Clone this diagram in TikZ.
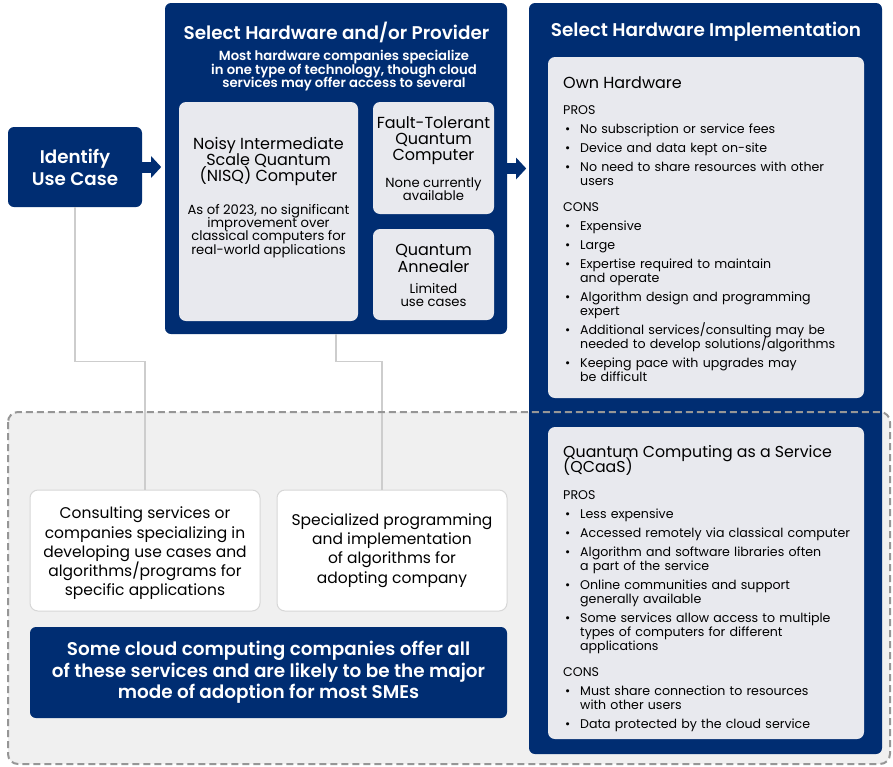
\documentclass[tikz,border=0pt]{standalone}
\usepackage{fontspec}
\setmainfont{Poppins}[BoldFont={Poppins SemiBold}]
\usetikzlibrary{arrows.meta,positioning}

\definecolor{navy}{RGB}{0,45,114}
\definecolor{boxgray}{RGB}{232,233,238}
\definecolor{zonegray}{RGB}{240,240,240}
\definecolor{dashgray}{RGB}{150,150,150}
\definecolor{linegray}{RGB}{205,205,205}
\definecolor{edgegray}{RGB}{215,215,215}

\newcommand{\bul}{\par\hangindent=17pt\hangafter=1\noindent\makebox[17pt][l]{\hspace{2pt}\textbullet}}
\newcommand{\tightlines}{\setlength{\lineskiplimit}{-20pt}}

\tikzset{
  navybox/.style={fill=navy, rounded corners=6pt, inner sep=0pt},
  graybox/.style={fill=boxgray, rounded corners=7pt, inner sep=0pt},
  whitebox/.style={fill=white, draw=edgegray, line width=1pt, rounded corners=8pt, inner sep=0pt, align=center, font=\tightlines\fontsize{15.5}{19.2}\selectfont},
  flowarrow/.style={navy, line width=11pt, -{Triangle[length=10pt,width=21pt]}},
  link/.style={linegray, line width=1.3pt},
  titletext/.style={white, inner sep=0pt, font=\bfseries\fontsize{18.4}{20}\selectfont},
  notetext/.style={white, inner sep=0pt, align=center, font=\tightlines\bfseries\fontsize{13.2}{13.5}\selectfont},
  nametext/.style={inner sep=0pt, align=center, font=\tightlines\fontsize{16}{16.2}\selectfont},
  smalltext/.style={inner sep=0pt, align=center, font=\tightlines\fontsize{13.2}{13.3}\selectfont},
  listtext/.style={anchor=north west, inner sep=0pt, text width=320pt, align=left, font=\tightlines\fontsize{12.6}{14}\selectfont\setlength{\parskip}{5pt}}
}

\begin{document}
\tightlines
\begin{tikzpicture}[x=1pt,y=-1pt]
\useasboundingbox (0,0) rectangle (893,766);

\fill[zonegray, rounded corners=10pt] (8,412) rectangle (890,764);

\node[navybox, minimum width=134pt, minimum height=80pt, text=white, align=center, font=\tightlines\bfseries\fontsize{18.3}{22}\selectfont] (usecase) at (75,167) {Identify\\Use Case};
\node[navybox, minimum width=342pt, minimum height=331pt] (provider) at (336,168.5) {};
\node[navybox, minimum width=353pt, minimum height=751pt] (impl) at (705.5,378.5) {};

\node[whitebox, minimum width=230pt, minimum height=121pt] (consult) at (145,550.5) {\rule{0pt}{17.5pt}Consulting services or\\companies specializing in\\developing use cases and\\algorithms/programs for\\specific applications};
\node[whitebox, minimum width=230pt, minimum height=121pt] (special) at (392,550.5) {Specialized programming\\and implementation\\of algorithms for\\adopting company};
\node[navybox, minimum width=477pt, minimum height=91pt, text=white, align=center, font=\tightlines\bfseries\fontsize{18.4}{21.5}\selectfont] (cloud) at (268.5,672.5) {Some cloud computing companies offer all\\of these services and are likely to be the major\\mode of adoption for most SMEs};

\draw[link] (usecase.south) -- ++(0,154) -| (consult.north);
\draw[link] (provider.south) -- ++(0,27) -| ([xshift=-10pt]special.north);

\draw[flowarrow] (usecase.east) -- ++(19,0);
\draw[flowarrow] (provider.east) -- ++(19,0);

\node[titletext] (provtitle) at (336.5,32) {Select Hardware and/or Provider};
\node[notetext] (provnote) at (344,71) {Most hardware companies specialize\\in one type of technology, though cloud\\services may offer access to several};

\node[graybox, minimum width=179pt, minimum height=219pt] (nisq) at (268.5,211.5) {};
\node[graybox, minimum width=121pt, minimum height=112pt] (ftqc) at (433.5,158) {};
\node[graybox, minimum width=121pt, minimum height=91pt] (annealer) at (433.5,274.5) {};

\node[nametext] (nisqname) at (268.5,161.5) {Noisy Intermediate\\Scale Quantum\\(NISQ) Computer};
\node[smalltext] (nisqnote) at (268.5,231) {As of 2023, no significant\\improvement over\\classical computers for\\real-world applications};
\node[nametext] (ftqcname) at (433.5,140.5) {Fault-Tolerant\\Quantum\\Computer};
\node[smalltext] (ftqcnote) at (433.5,189.5) {None currently\\available};
\node[nametext] (annealname) at (433.5,258.5) {Quantum\\Annealer};
\node[smalltext] (annealnote) at (433.5,295) {Limited\\use cases};

\node[titletext] (impltitle) at (706,32) {Select Hardware Implementation};

\node[graybox, minimum width=316pt, minimum height=341pt] (ownhw) at (706,227.5) {};
\node[graybox, minimum width=316pt, minimum height=312pt] (qcaas) at (706,583) {};

\node[listtext] (ownlist) at (563,76.5) {{\fontsize{16}{16}\selectfont Own Hardware\par}\vspace{6.5pt}
PROS
\bul No subscription or service fees
\bul Device and data kept on-site
\bul No need to share resources with other\newline users
\par\vspace{7pt}CONS
\bul Expensive
\bul Large
\bul Expertise required to maintain\newline and operate
\bul Algorithm design and programming\newline expert
\bul Additional services/consulting may be\newline needed to develop solutions/algorithms
\bul Keeping pace with upgrades may\newline be difficult\par};

\node[listtext] (qcaaslist) at (563,445) {{\fontsize{15.8}{15}\selectfont Quantum Computing as a Service\newline (QCaaS)\par}\vspace{8pt}
PROS
\bul Less expensive
\bul Accessed remotely via classical computer
\bul Algorithm and software libraries often\newline a part of the service
\bul Online communities and support\newline generally available
\bul Some services allow access to multiple\newline types of computers for different\newline applications
\par\vspace{7pt}CONS
\bul Must share connection to resources\newline with other users
\bul Data protected by the cloud service\par};

\draw[dashgray, line width=2pt, dash pattern=on 7pt off 4pt, rounded corners=10pt] (8,412) rectangle (890,764);
\end{tikzpicture}
\end{document}
